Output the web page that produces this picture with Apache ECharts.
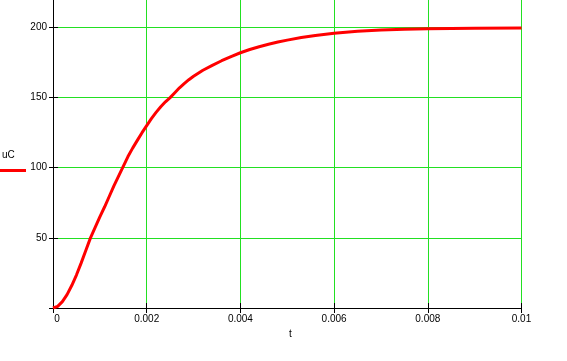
<!DOCTYPE html>
<html>
<head>
<meta charset="utf-8">
<script src="https://cdn.jsdelivr.net/npm/echarts@6/dist/echarts.min.js"></script>
<style>html,body{margin:0;padding:0;background:#fff}#c{width:567px;height:361px}</style>
</head>
<body>
<div id="c"></div>
<script>
var seriesName = 'uC';
var xName = 't';
var tValues = [0, 0.0001, 0.0002, 0.0003, 0.0004, 0.0005, 0.0006, 0.0007, 0.0008, 0.0009, 0.001,
  0.0011, 0.0012, 0.0013, 0.0014, 0.0015, 0.0016, 0.0017, 0.0018, 0.0019, 0.002,
  0.0021, 0.0022, 0.0023, 0.0024, 0.0025, 0.0026, 0.0027, 0.0028, 0.0029, 0.003,
  0.0032, 0.0034, 0.0036, 0.0038, 0.004, 0.0042, 0.0044, 0.0046, 0.0048, 0.005,
  0.0053, 0.0056, 0.006, 0.0065, 0.007, 0.0075, 0.008, 0.009, 0.01];
var uCValues = [0, 1.2, 4.5, 9.5, 16, 23.5, 32, 41, 50, 57.5, 65,
  72, 79.5, 87, 94, 101, 108, 114, 119.5, 125, 130,
  135, 139.5, 143.5, 147, 150, 153.5, 157, 160, 162.8, 165.2,
  169.5, 173, 176.3, 179.3, 182, 184.3, 186.3, 188, 189.6, 191,
  192.8, 194.3, 195.9, 197.3, 198.2, 198.8, 199.1, 199.4, 199.6];
var xTicks = [0, 0.002, 0.004, 0.006, 0.008, 0.01];
var yTicks = [0, 50, 100, 150, 200];
var yLabels = [50, 100, 150, 200];

var green = '#22e022';
var font = 'Liberation Sans';
var data = tValues.map(function (t, i) { return [t, uCValues[i]]; });

var chart = echarts.init(document.getElementById('c'));
var xBase = { type: 'value', min: 0, max: 0.01, interval: 0.002 };
var yBase = { type: 'value', min: 0, max: 219.6, interval: 50 };
chart.setOption({
  animation: false,
  grid: { left: 53, right: 45.5, top: 0, bottom: 53 },
  xAxis: [
    Object.assign({}, xBase, {
      axisLine: { show: true, lineStyle: { color: '#000', width: 1 } },
      axisTick: { show: true, inside: false, length: 5, lineStyle: { color: '#000' } },
      axisLabel: { color: '#000', fontFamily: font, fontSize: 10, margin: 6,
        formatter: function (v) {
          var r = +v.toFixed(4);
          if (xTicks.indexOf(r) < 0) return '';
          return r === 0 ? '{z|0}' : String(r);
        },
        rich: { z: { padding: [0, 0, 0, 8], fontSize: 10, fontFamily: font, color: '#000' } } },
      splitLine: { show: true, lineStyle: { color: green, width: 1 } }
    }),
    Object.assign({}, xBase, {
      position: 'bottom',
      axisLine: { show: false },
      axisTick: { show: true, inside: true, length: 5, lineStyle: { color: '#000' } },
      axisLabel: { show: false },
      splitLine: { show: false }
    })
  ],
  yAxis: [
    Object.assign({}, yBase, {
      axisLine: { show: true, lineStyle: { color: '#000', width: 1 } },
      axisTick: { show: true, inside: false, length: 4, customValues: yTicks, lineStyle: { color: '#000' } },
      axisLabel: { color: '#000', fontFamily: font, fontSize: 10, margin: 6, customValues: yLabels },
      splitLine: { show: true, lineStyle: { color: green, width: 1 } }
    }),
    Object.assign({}, yBase, {
      position: 'left',
      axisLine: { show: false },
      axisTick: { show: true, inside: true, length: 5, customValues: yTicks, lineStyle: { color: '#000' } },
      axisLabel: { show: false },
      splitLine: { show: false }
    })
  ],
  series: [{
    name: seriesName,
    type: 'line',
    data: data,
    showSymbol: false,
    lineStyle: { color: '#ff0000', width: 3 },
    z: 5
  }],
  graphic: [
    { type: 'text', left: 2, top: 150, style: { text: seriesName, fill: '#000', font: '10px ' + font } },
    { type: 'line', shape: { x1: 0, y1: 170.5, x2: 26, y2: 170.5 }, style: { stroke: '#ff0000', lineWidth: 3 } },
    { type: 'text', left: 289, top: 329, style: { text: xName, fill: '#000', font: '10px ' + font } }
  ]
});
</script>
</body>
</html>
